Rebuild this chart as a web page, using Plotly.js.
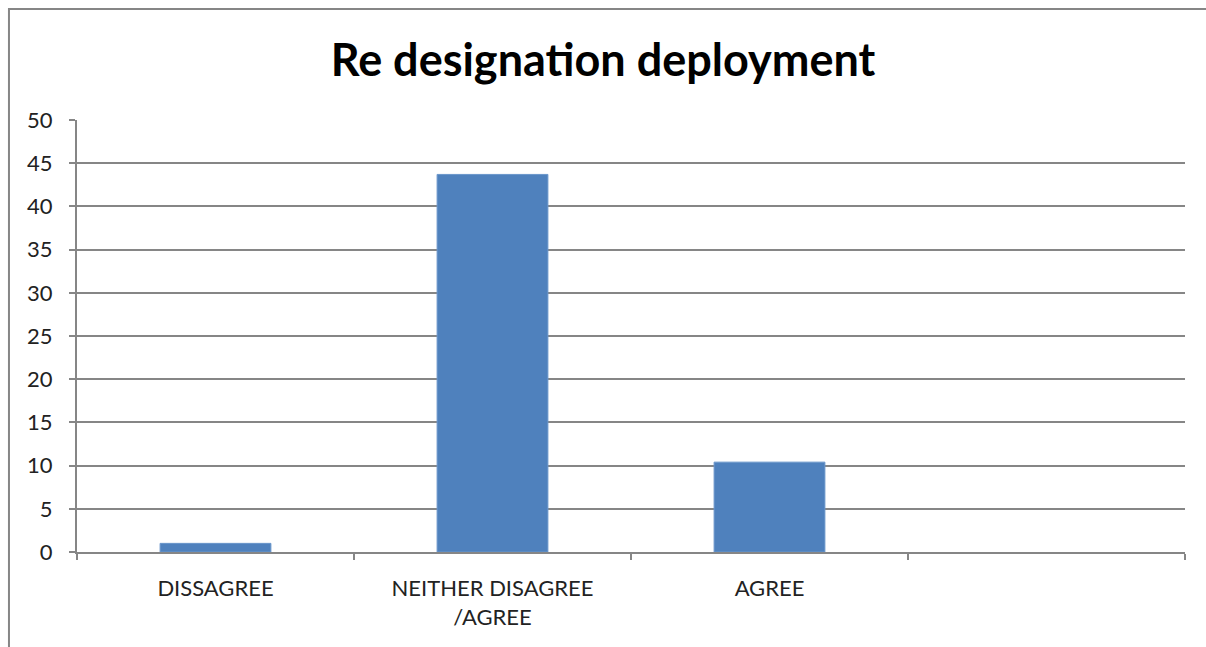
<!DOCTYPE html>
<html><head><meta charset="utf-8">
<script src="https://cdn.plot.ly/plotly-3.0.1.min.js"></script>
<style>body{margin:0;background:#fff}#chart{width:1206px;height:647px}</style>
</head><body><div id="chart"></div>
<script>
const categories = ["DISSAGREE", "NEITHER DISAGREE<br>/AGREE", "AGREE"];
const allCategories = ["DISSAGREE", "NEITHER DISAGREE<br>/AGREE", "AGREE", " "];
const values = [1.0, 43.7, 10.4];
const yTicks = [0, 5, 10, 15, 20, 25, 30, 35, 40, 45, 50];

const grid = '#868686';
const trace = {
  type: 'bar', x: categories, y: values,
  marker: {color: '#4F81BD', line: {color: '#6A96CB', width: 1}},
  hoverinfo: 'x+y'
};
const layout = {
  width: 1206, height: 647,
  margin: {l: 77, r: 21, t: 120, b: 95},
  paper_bgcolor: '#fff', plot_bgcolor: '#fff',
  showlegend: false,
  bargap: 0.6,
  font: {family: 'Lato, "Open Sans", sans-serif', color: '#222'},
  title: {text: '<b>Re designation deployment</b>', x: 0.5, xanchor: 'center', y: 0.907, yanchor: 'middle',
          font: {size: 45, color: '#000', family: 'Lato, "Open Sans", sans-serif'}},
  xaxis: {type: 'category', categoryorder: 'array', categoryarray: allCategories,
          range: [-0.5, 3.5], tickson: 'boundaries', ticks: 'outside', ticklen: 6, tickwidth: 2, tickcolor: grid,
          showline: true, linecolor: grid, linewidth: 2, showgrid: false, ticklabelstandoff: 16,
          tickfont: {size: 22, color: '#222'}, fixedrange: true},
  yaxis: {range: [0, 50], tickvals: yTicks, ticks: 'outside', ticklen: 6, tickwidth: 2, tickcolor: grid,
          showline: true, linecolor: grid, linewidth: 2, showgrid: true, gridcolor: grid, gridwidth: 2,
          ticklabelstandoff: 12,
          zeroline: false, tickfont: {size: 22, color: '#222'}, fixedrange: true},
  shapes: [{type: 'path', xref: 'paper', yref: 'paper',
            path: 'M -0.0614,-0.25 L -0.0614,1.257 L 1.05,1.257',
            line: {color: grid, width: 2}}]
};
Plotly.newPlot('chart', [trace], layout, {displayModeBar: false, staticPlot: true});
</script></body></html>
